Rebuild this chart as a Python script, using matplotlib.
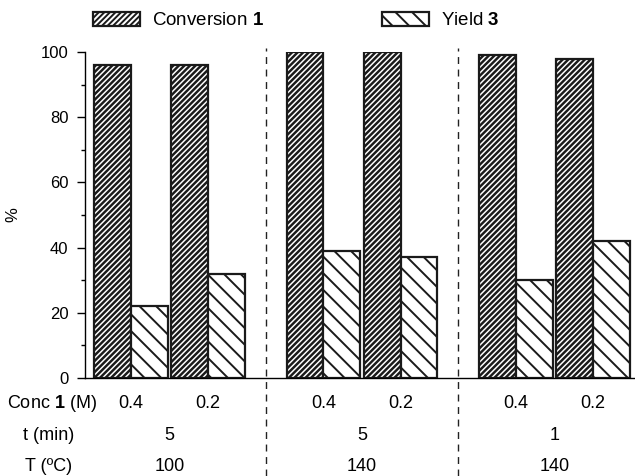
"""
Conversion / yield bar chart with condition rows below the axis
"""

import matplotlib.pyplot as plt
from matplotlib.patches import Patch

# data
temps = [100, 140, 140]          # T (ºC) per group
times = [5, 5, 1]                # t (min) per group
concs = [0.4, 0.2]               # Conc 1 (M) inside each group
conversion = [96, 96, 100, 100, 99, 98]
yields = [22, 32, 39, 37, 30, 42]


def hatch_lw(artists, lw):
    # per-artist hatch width where matplotlib supports it
    for a in artists:
        if hasattr(a, 'set_hatch_linewidth'):
            a.set_hatch_linewidth(lw)


def main():
    plt.rcParams['font.family'] = ['Liberation Sans', 'DejaVu Sans']
    plt.rcParams['mathtext.fontset'] = 'custom'
    plt.rcParams['mathtext.rm'] = 'Liberation Sans'
    plt.rcParams['mathtext.bf'] = 'Liberation Sans:bold'
    plt.rcParams['hatch.linewidth'] = 1.4

    fig = plt.figure(figsize=(6.35, 4.76), dpi=100)
    ax = fig.add_axes([85 / 635, 98 / 476, 550 / 635, 326 / 476])

    w = 0.96
    starts = []
    for g in range(len(temps)):
        for c in range(len(concs)):
            starts.append(g * 5 + c * 2)

    b1 = ax.bar(starts, conversion, width=w, align='edge', color='white',
                edgecolor='#1a1a1a', linewidth=1.6, hatch='//////')
    b2 = ax.bar([s + w for s in starts], yields, width=w, align='edge', color='white',
                edgecolor='#1a1a1a', linewidth=1.6, hatch='\\\\')
    hatch_lw(b1, 1.75)
    hatch_lw(b2, 1.4)

    ax.set_xlim(-0.234, 14.05)
    ax.set_ylim(0, 100)
    ax.spines['right'].set_visible(False)
    ax.spines['top'].set_visible(False)
    ax.spines['left'].set_linewidth(1.0)
    ax.spines['bottom'].set_linewidth(1.0)
    ax.set_xticks([])
    ax.set_yticks(range(0, 101, 20))
    ax.set_yticks(range(10, 100, 20), minor=True)
    ax.tick_params(axis='y', which='major', length=6, width=1.0, labelsize=12, pad=6)
    ax.tick_params(axis='y', which='minor', length=3, width=1.0)
    ax.set_ylabel('%', fontsize=12, rotation=90)
    ax.yaxis.set_label_coords(-0.118, 0.5)

    # group dividers
    for g in range(1, len(temps)):
        xd = g * 5 - 0.54
        ax.plot([xd, xd], [-30.2, 101.2], color='#222222', linewidth=1.0,
                linestyle=(0, (5, 4)), clip_on=False)

    # condition rows
    row_y = [-7.7, -17.5, -27.3]
    fs = 13
    ax.text(-1.1, row_y[0], 'Conc $\\mathbf{1}$ (M)', ha='center', va='center', fontsize=fs)
    ax.text(-1.19, row_y[1], 't (min)', ha='center', va='center', fontsize=fs)
    ax.text(-1.19, row_y[2], 'T (ºC)', ha='center', va='center', fontsize=fs)
    for i, s in enumerate(starts):
        ax.text(s + w, row_y[0], str(concs[i % 2]), ha='center', va='center', fontsize=fs)
    for g in range(len(temps)):
        xc = g * 5 + (2 + 2 * w) / 2
        ax.text(xc, row_y[1], str(times[g]), ha='center', va='center', fontsize=fs)
        ax.text(xc, row_y[2], str(temps[g]), ha='center', va='center', fontsize=fs)

    handles = [Patch(facecolor='white', edgecolor='#1a1a1a', linewidth=1.6, hatch='//////'),
               Patch(facecolor='white', edgecolor='#1a1a1a', linewidth=1.6, hatch='\\\\')]
    hatch_lw(handles[:1], 1.75)
    fig.legend(handles, ['Conversion $\\mathbf{1}$', 'Yield $\\mathbf{3}$'],
               loc='upper left', bbox_to_anchor=(93 / 635, 1 - 12 / 476), ncol=2,
               frameon=False, fontsize=13.5, borderpad=0, borderaxespad=0,
               handlelength=2.5, handleheight=0.75, handletextpad=0.65,
               columnspacing=6.3)

    fig.savefig('out.png', dpi=100)


if __name__ == "__main__":
    main()
